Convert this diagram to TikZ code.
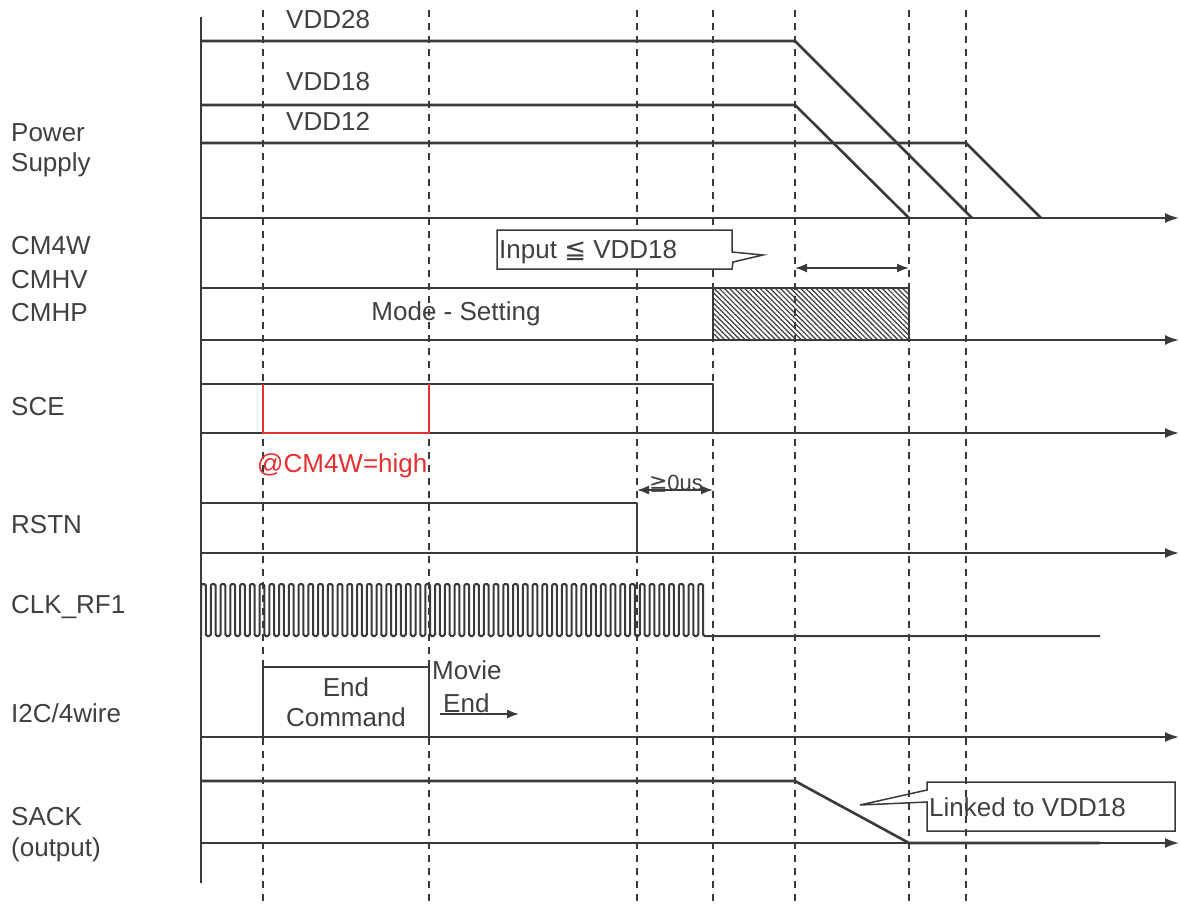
\documentclass[tikz,border=0pt]{standalone}
\usepackage{fontspec}
\setmainfont{Liberation Sans}
\newfontfamily\symfont{DejaVu Sans}
\usetikzlibrary{arrows.meta,patterns.meta}
\definecolor{sigcol}{HTML}{3A3A3A}
\definecolor{txtcol}{HTML}{404040}
\definecolor{redcol}{HTML}{E53030}
\begin{document}
\begin{tikzpicture}[x=1pt,y=-1pt,
  sig/.style={line width=2.6pt, draw=sigcol, line join=round},
  axisarrow/.style={line width=2pt, draw=sigcol, -{Latex[length=14pt,width=10pt]}},
  gridline/.style={dash pattern=on 7pt off 6pt, line width=1.4pt, draw=sigcol},
  dimarrow/.style={line width=1.6pt, draw=sigcol, {Latex[length=12pt,width=9pt]}-{Latex[length=12pt,width=9pt]}},
  calloutbox/.style={line width=1.5pt, draw=sigcol},
  lbl/.style={anchor=west, inner sep=0pt, font=\fontsize{26}{31}\selectfont, text=txtcol},
  ctr/.style={anchor=center, inner sep=0pt, font=\fontsize{26}{31}\selectfont, text=txtcol, align=center},
]
\useasboundingbox (0,0) rectangle (1180,903);

% dashed time markers
\foreach \x/\n in {263/a,429/b,637/c,713/d,795/e,909/f,966/g} {
  \coordinate (t\n top) at (\x,10);
  \coordinate (t\n bot) at (\x,903);
  \draw[gridline] (t\n top) -- (t\n bot);
}

% vertical axis
\coordinate (vtop) at (201,17);
\coordinate (vbot) at (201,883);
\draw[line width=2.4pt, draw=sigcol] (vtop) -- (vbot);

% horizontal axes
\foreach \y/\n in {218/pw,340/cm,433/sce,553/rst,737/iic,843/sack} {
  \coordinate (\n0) at (201,\y);
  \coordinate (\n1) at (1179,\y);
  \draw[axisarrow] (\n0) -- (\n1);
}

% ---------- Power supply ----------
\draw[sig] (201,41) -- (795,41) -- (972,218);
\draw[sig] (201,105) -- (795,105) -- (909,218);
\draw[sig] (201,143) -- (966,143) -- (1041,218);
\draw[sig] (201,218) -- (1100,218);
\node[lbl] (vdd28) at (286,20) {VDD28};
\node[lbl] (vdd18) at (286,82) {VDD18};
\node[lbl] (vdd12) at (286,121) {VDD12};
\node[lbl] (lpow) at (11,133) {Power};
\node[lbl] (lsup) at (11,165) {Supply};

% ---------- CM4W / CMHV / CMHP ----------
\node[lbl] (lcm1) at (11,246) {CM4W};
\node[lbl] (lcm2) at (11,280) {CMHV};
\node[lbl] (lcm3) at (11,313) {CMHP};
\draw[sig] (201,288) -- (909,288);
\draw[sig, pattern={Lines[angle=-45,distance=3.6pt,line width=1.2pt]}, pattern color=sigcol]
  (713,288) rectangle (909,340);
\node[ctr] (mode) at (456,314) {Mode - Setting};
\draw[calloutbox, fill=white] (497,230) -- (732,230) -- (732,252) -- (763,255) -- (733,262) -- (732,269) -- (497,269) -- cycle;
\node[lbl] (inp) at (499,252) {Input {\symfont ≦} VDD18};
\coordinate (da1) at (795,268);
\coordinate (da2) at (909,268);
\draw[dimarrow] (da1) -- (da2);

% ---------- SCE ----------
\node[lbl] (lsce) at (11,407) {SCE};
\draw[sig] (201,384) -- (713,384) -- (713,433);
\draw[line width=2.4pt, draw=redcol] (263,384) -- (263,433) -- (429,433) -- (429,384);
\node[lbl, text=redcol] (cm4w) at (257,466) {@CM4W=high};

% ---------- RSTN ----------
\node[lbl] (lrst) at (11,525) {RSTN};
\draw[sig] (201,503) -- (637,503) -- (637,553);
\coordinate (z1) at (637,490);
\coordinate (z2) at (713,490);
\draw[dimarrow] (z1) -- (z2);
\node[anchor=center, inner sep=0pt, font=\fontsize{22}{25}\selectfont, text=txtcol] (zus) at (676,484) {{\symfont ≧}0us};

% ---------- CLK_RF1 ----------
\node[lbl] (lclk) at (11,607) {CLK\_RF1};
\draw[line width=2pt, draw=sigcol, rounded corners=1.5pt] (201,636)
  \foreach \i in {0,...,51} { -- ++(0,-52) -- ++(4.875,0) -- ++(0,52) -- ++(4.875,0) }
  -- (1100,636);

% ---------- I2C/4wire ----------
\node[lbl] (liic) at (11,713) {I2C/4wire};
\draw[sig] (263,737) -- (263,667) -- (429,667) -- (429,737);
\node[ctr] (endc) at (346,702) {End\\[-1pt]Command};
\node[lbl] (movie) at (432,670) {Movie};
\node[lbl] (mend) at (443,703) {End};
\coordinate (ma1) at (440,714);
\coordinate (ma2) at (519,714);
\draw[line width=1.6pt, draw=sigcol, -{Latex[length=12pt,width=9pt]}] (ma1) -- (ma2);

% ---------- SACK ----------
\node[lbl] (lsack) at (11,817) {SACK};
\node[lbl] (lout) at (11,850) {(output)};
\draw[sig] (201,781) -- (795,781) -- (909,843) -- (1100,843);
\draw[calloutbox] (927,782) -- (1175,782) -- (1175,831) -- (927,831) -- (927,802) -- (860,805) -- (927,790) -- cycle;
\node[lbl] (link) at (929,807) {Linked to VDD18};
\end{tikzpicture}
\end{document}
